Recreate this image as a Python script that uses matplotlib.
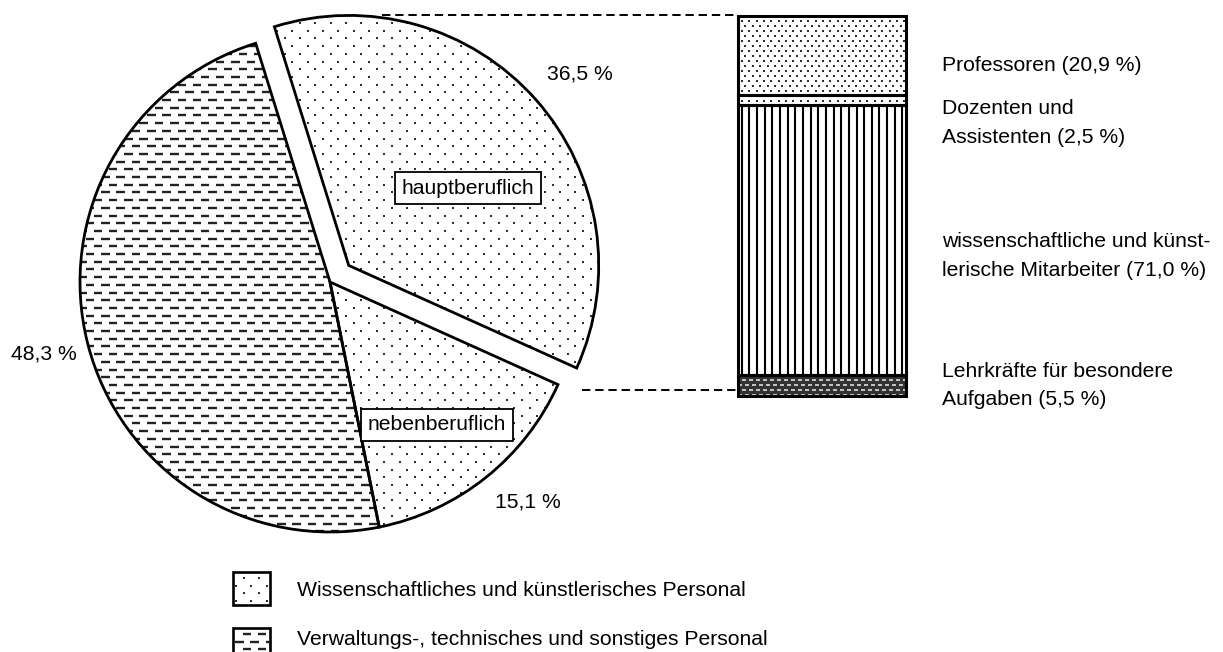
import numpy as np
import matplotlib
matplotlib.use('Agg')
import matplotlib.pyplot as plt
from matplotlib.collections import LineCollection
from matplotlib.patches import Rectangle

plt.rcParams['font.family'] = ['Liberation Sans', 'DejaVu Sans']
plt.rcParams['lines.scale_dashes'] = False

# ---------------- data ----------------
pie_labels = ['hauptberuflich', 'nebenberuflich', 'Verwaltungs-, technisches und sonstiges Personal']
pie_values = [36.5, 15.1, 48.3]
pie_pct_text = ['36,5 %', '15,1 %', '48,3 %']

bar_categories = ['Professoren', 'Dozenten und Assistenten',
                  'wissenschaftliche und künstlerische Mitarbeiter',
                  'Lehrkräfte für besondere Aufgaben']
bar_values = [20.9, 2.5, 71.0, 5.5]
bar_label_lines = [['Professoren (20,9 %)'],
                   ['Dozenten und', 'Assistenten (2,5 %)'],
                   ['wissenschaftliche und künst-', 'lerische Mitarbeiter (71,0 %)'],
                   ['Lehrkräfte für besondere', 'Aufgaben (5,5 %)']]
legend_labels = ['Wissenschaftliches und künstlerisches Personal',
                 'Verwaltungs-, technisches und sonstiges Personal']

# ---------------- figure ----------------
W, H = 1223, 652
fig = plt.figure(figsize=(W / 100, H / 100), dpi=100)
ax = fig.add_axes([0, 0, 1, 1])
FS = 15.2
DOT = '#2e2e2e'


def dot_pattern(target_ax, clip, x0, x1, y0, y1, dx, dy, size=3.0, color=DOT, zorder=2):
    pts = []
    j = 0
    y = y0
    while y <= y1:
        off = dx / 2 if j % 2 else 0
        for x in np.arange(x0 + off, x1, dx):
            pts.append((x, y))
        y += dy
        j += 1
    pts = np.array(pts)
    sc = target_ax.scatter(pts[:, 0], pts[:, 1], s=size, marker='s', c=color,
                           linewidths=0, transform=ax.transData, zorder=zorder)
    sc.set_clip_path(clip)
    return sc


def dash_pattern(target_ax, clip, x0, x1, y0, y1, dx, dy, length, lw, color, zorder=2):
    segs = []
    j = 0
    y = y0
    while y <= y1:
        off = dx / 2 if j % 2 else 0
        for x in np.arange(x0 + off, x1, dx):
            segs.append([(x, y), (x + length, y)])
        y += dy
        j += 1
    lc = LineCollection(segs, colors=color, linewidths=lw, transform=ax.transData,
                        zorder=zorder, capstyle='butt')
    target_ax.add_collection(lc, autolim=False)
    lc.set_clip_path(clip)
    return lc


# ---------------- pie ----------------
cx, cy, R = 330, 370, 250
wedges, _ = ax.pie(pie_values, startangle=107.3, counterclock=False,
                   center=(cx, cy), radius=R, explode=[25, 0, 0],
                   wedgeprops=dict(facecolor='none', edgecolor='black',
                                   linewidth=2.0, zorder=3))
ax.set_xlim(0, W)
ax.set_ylim(0, H)
ax.set_aspect('auto')
ax.axis('off')

for i, w in enumerate(wedges):
    if i < 2:
        dot_pattern(ax, w, 40, 660, 90, 660, 15.3, 7.7)
    else:
        dash_pattern(ax, w, 40, 660, 90, 660, 15.3, 7.7, 8.5, 1.7, '#222222')

# pie labels
ax.text(547, 572, pie_pct_text[0], fontsize=FS, ha='left', va='baseline')
ax.text(495, 145, pie_pct_text[1], fontsize=FS, ha='left', va='baseline')
ax.text(11, 292, pie_pct_text[2], fontsize=FS, ha='left', va='baseline')

box = dict(boxstyle='square,pad=0.3', facecolor='white', edgecolor='black', linewidth=1.3)
ax.text(468, 464, pie_labels[0], fontsize=FS, ha='center', va='center', bbox=box, zorder=5)
ax.text(437, 227, pie_labels[1], fontsize=FS, ha='center', va='center', bbox=box, zorder=5)

# ---------------- stacked bar ----------------
bx0, bx1, by_top, by_bot = 738, 906, 16, 396
ax2 = fig.add_axes([bx0 / W, (H - by_bot) / H, (bx1 - bx0) / W, (by_bot - by_top) / H])
total = sum(bar_values)
bottoms = np.concatenate([[0], np.cumsum(bar_values)[:-1]])
faces = ['white', 'white', 'white', '#333333']
fills = ax2.bar([0.5] * 4, bar_values, bottom=bottoms, width=1.0, color=faces,
                linewidth=0, zorder=1)
outl = ax2.bar([0.5] * 4, bar_values, bottom=bottoms, width=1.0, fill=False,
               edgecolor='black', linewidth=2.2, zorder=3)
for p in outl:
    p.set_clip_on(False)

Yb0, Yb1 = H - by_bot, H - by_top
dot_pattern(ax2, fills[0], bx0, bx1 + 8, Yb0, Yb1 + 5, 7.4, 5.0, size=2.6)
dot_pattern(ax2, fills[1], bx0, bx1 + 8, Yb0, Yb1 + 5, 7.4, 5.0, size=2.6)
vsegs = [[(x, Yb0), (x, Yb1)] for x in np.arange(bx0 + 3.8, bx1, 7.65)]
vl = LineCollection(vsegs, colors='black', linewidths=1.5, transform=ax.transData, zorder=2)
ax2.add_collection(vl, autolim=False)
vl.set_clip_path(fills[2])
dash_pattern(ax2, fills[3], bx0, bx1 + 8, Yb0 + 1.5, Yb1, 7.0, 5.0, 4.0, 1.2, '#dddddd')

ax2.set_xlim(0, 1)
ax2.set_ylim(total, 0)
ax2.axis('off')

# bar labels
label_baselines = [[70.7], [114, 143], [247, 276], [377, 405]]
for lines, ys in zip(bar_label_lines, label_baselines):
    for t, y in zip(lines, ys):
        ax.text(942, H - y, t, fontsize=FS, ha='left', va='baseline')

# connector dashed lines
ax.plot([382, bx0], [637.5, 637.5], color='black', lw=1.4, ls=(0, (6, 3.5)), zorder=4)
ax.plot([582, bx0], [H - 390, H - 390], color='black', lw=1.4, ls=(0, (6, 3.5)), zorder=4)

# ---------------- legend ----------------
leg_boxes = [(233, 572, 270, 605), (233, 628, 270, 661)]
leg_base = [596, 645]
for k, ((x0, y0, x1, y1), lab, yb) in enumerate(zip(leg_boxes, legend_labels, leg_base)):
    rect = Rectangle((x0, H - y1), x1 - x0, y1 - y0, facecolor='white',
                     edgecolor='black', linewidth=1.9, zorder=3, clip_on=False)
    ax.add_patch(rect)
    inner = Rectangle((x0, H - y1), x1 - x0, y1 - y0, facecolor='none',
                      edgecolor='none', linewidth=0)
    ax.add_patch(inner)
    if k == 0:
        dot_pattern(ax, inner, x0 + 3, x1, H - y1 + 4, H - y0 - 2, 15.3, 7.7, zorder=4)
    else:
        dash_pattern(ax, inner, x0 + 2, x1, H - y1 + 4, H - y0 - 2, 15.3, 7.7, 8.5, 1.7,
                     '#222222', zorder=4)
    ax.text(297, H - yb, lab, fontsize=FS, ha='left', va='baseline')

fig.savefig('out.png', dpi=100)
